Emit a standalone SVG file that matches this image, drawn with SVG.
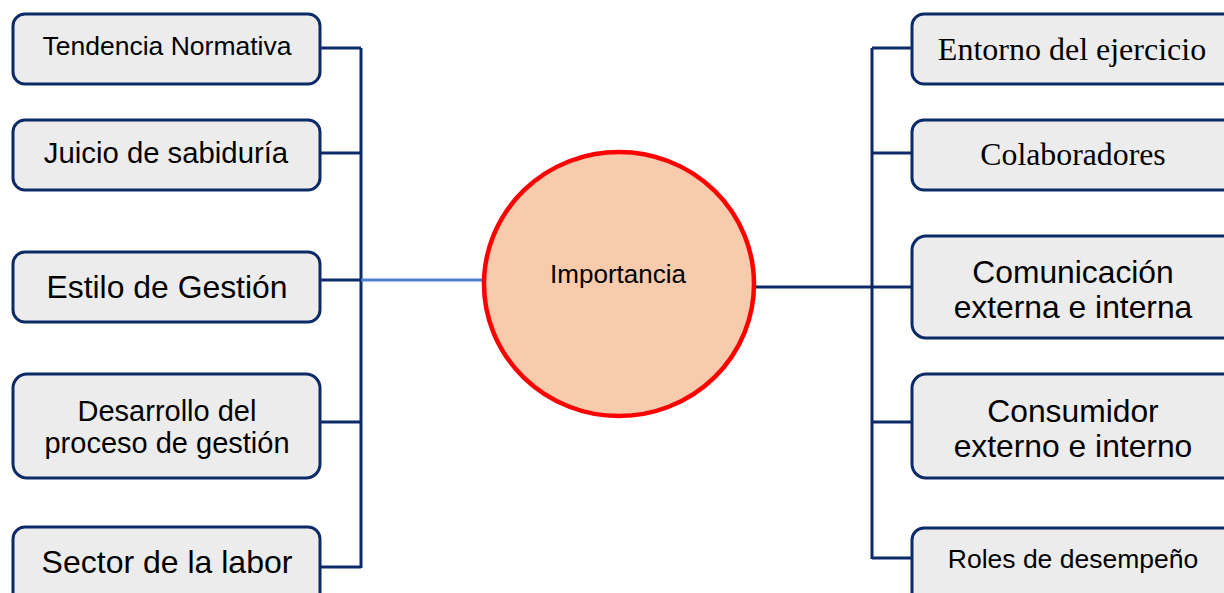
<svg xmlns="http://www.w3.org/2000/svg" width="1224" height="593" viewBox="0 0 1224 593">
  <style>
    .box { fill: #ececec; stroke: #0c2a68; stroke-width: 3; }
    .wire { fill: none; stroke: #0c2a68; stroke-width: 3; }
    .link { fill: none; stroke: #4f7fd2; stroke-width: 3; }
    .sans { font-family: "Liberation Sans", Arial, sans-serif; fill: #000; text-anchor: middle; }
    .serif { font-family: "Liberation Serif", "Times New Roman", serif; fill: #000; text-anchor: middle; }
  </style>

  <!-- connectors -->
  <g id="connectors">
    <path class="wire" d="M320 48 H361 M320 153 H361 M320 280 H361 M320 422 H361 M320 567 H361 M361 48 V568"/>
    <path class="link" d="M361 280 H484"/>
    <path class="wire" d="M755 287 H872 M872 48 V559 M872 48 H912 M872 153 H912 M872 287 H912 M872 422 H912 M872 558 H912"/>
  </g>

  <!-- centre -->
  <g id="importancia">
    <ellipse cx="619" cy="284" rx="135" ry="132" fill="#f7cbac" stroke="#ff0000" stroke-width="4.5"/>
    <text class="sans" x="618" y="283" font-size="26">Importancia</text>
  </g>

  <!-- left column -->
  <g id="tendencia">
    <rect class="box" x="13" y="14" width="307" height="70" rx="12"/>
    <text class="sans" x="167" y="55" font-size="26.5">Tendencia Normativa</text>
  </g>
  <g id="juicio">
    <rect class="box" x="13" y="120" width="307" height="70" rx="12"/>
    <text class="sans" x="166" y="163" font-size="29.3">Juicio de sabiduría</text>
  </g>
  <g id="estilo">
    <rect class="box" x="13" y="252" width="307" height="70" rx="12"/>
    <text class="sans" x="167" y="298" font-size="31.9">Estilo de Gestión</text>
  </g>
  <g id="desarrollo">
    <rect class="box" x="13" y="374" width="307" height="104" rx="14"/>
    <text class="sans" x="167" y="421" font-size="29">Desarrollo del</text>
    <text class="sans" x="167" y="453" font-size="29">proceso de gestión</text>
  </g>
  <g id="sector">
    <rect class="box" x="13" y="527" width="307" height="90" rx="12"/>
    <text class="sans" x="167" y="573" font-size="32">Sector de la labor</text>
  </g>

  <!-- right column -->
  <g id="entorno">
    <rect class="box" x="912" y="14" width="330" height="70" rx="12"/>
    <text class="serif" x="1072" y="60" font-size="32">Entorno del ejercicio</text>
  </g>
  <g id="colaboradores">
    <rect class="box" x="912" y="120" width="330" height="70" rx="12"/>
    <text class="serif" x="1073" y="165" font-size="31.8">Colaboradores</text>
  </g>
  <g id="comunicacion">
    <rect class="box" x="912" y="236" width="330" height="102" rx="14"/>
    <text class="sans" x="1073" y="283" font-size="31.8">Comunicación</text>
    <text class="sans" x="1073" y="318" font-size="31.8">externa e interna</text>
  </g>
  <g id="consumidor">
    <rect class="box" x="912" y="374" width="330" height="104" rx="14"/>
    <text class="sans" x="1073" y="422" font-size="31.8">Consumidor</text>
    <text class="sans" x="1073" y="457" font-size="31.8">externo e interno</text>
  </g>
  <g id="roles">
    <rect class="box" x="912" y="528" width="330" height="90" rx="12"/>
    <text class="sans" x="1073" y="568" font-size="26.5">Roles de desempeño</text>
  </g>
</svg>
